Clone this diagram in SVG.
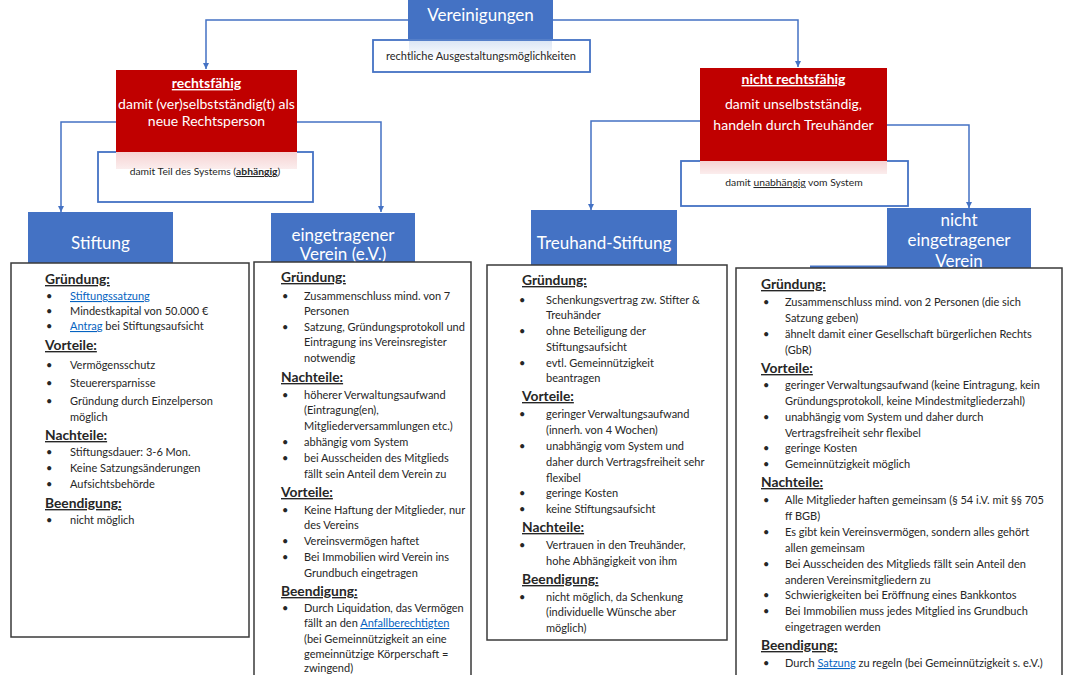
<svg xmlns="http://www.w3.org/2000/svg" width="1080" height="675" viewBox="0 0 1080 675">
<defs>
<marker id="arr" viewBox="0 0 10 10" refX="10" refY="5" markerWidth="6" markerHeight="6" markerUnits="userSpaceOnUse" orient="auto">
<path d="M0,0 L10,5 L0,10 z" fill="#4472C4"/>
</marker>
<linearGradient id="pink" x1="0" y1="0" x2="0" y2="1">
<stop offset="0" stop-color="#F6D3D3"/><stop offset="1" stop-color="#FBEDED"/>
</linearGradient>
<linearGradient id="lblue" x1="0" y1="0" x2="0" y2="1">
<stop offset="0" stop-color="#DCE6F5"/><stop offset="1" stop-color="#FFFFFF"/>
</linearGradient>
</defs>
<style>
.t{font-family:Lato,"Open Sans","Liberation Sans",sans-serif;font-size:11px;fill:#262626}
.h{font-family:Lato,"Open Sans","Liberation Sans",sans-serif;font-size:13.8px;font-weight:bold;fill:#262626;text-decoration:underline}
.lk{fill:#0563C1;text-decoration:underline}
.ti{font-family:Lato,"Open Sans","Liberation Sans",sans-serif;font-size:17px;fill:#FFFFFF;text-anchor:middle}
.rt{font-family:Lato,"Open Sans","Liberation Sans",sans-serif;font-size:14px;fill:#FFFFFF;text-anchor:middle}
.rh{font-weight:bold;text-decoration:underline}
.sm{font-family:Lato,"Open Sans","Liberation Sans",sans-serif;font-size:10.3px;fill:#262626;text-anchor:middle}
.blue{fill:#4472C4}
.red{fill:#C00000}
.tb{fill:#FFFFFF;stroke:#4472C4;stroke-width:1.8}
.pn{fill:#FFFFFF;stroke:#3A3A3A;stroke-width:1.5}
.conn{stroke:#4472C4;stroke-width:1.5;fill:none;marker-end:url(#arr)}
</style>

<g id="connectors">
<path class="conn" d="M408,20 H206 V69"/>
<path class="conn" d="M553,20 H798 V67"/>
<path class="conn" d="M116,122 H61 V212"/>
<path class="conn" d="M297,122 H381 V212"/>
<path class="conn" d="M700,121 H591 V210"/>
<path class="conn" d="M887,125 H969 V208"/>
</g>

<g id="vereinigungen">
<rect class="tb" x="373" y="40" width="217" height="32"/>
<rect x="409" y="41" width="143" height="18" fill="url(#lblue)"/>
<rect class="blue" x="408" y="0" width="145" height="39"/>
<text class="ti" x="480.5" y="21">Vereinigungen</text>
<text class="sm" x="481" y="60" style="font-size:11px">rechtliche Ausgestaltungsmöglichkeiten</text>
</g>

<g id="rechtsfaehig">
<rect class="tb" x="98" y="152" width="215" height="50"/>
<rect x="116" y="152" width="181" height="17" fill="url(#pink)"/>
<rect class="red" x="116" y="70" width="181" height="82"/>
<text class="rt" x="206.5" y="88"><tspan class="rh">rechtsfähig</tspan></text>
<text class="rt" x="206.5" y="109">damit (ver)selbstständig(t) als</text>
<text class="rt" x="206.5" y="126">neue Rechtsperson</text>
<text class="sm" x="205" y="175">damit Teil des Systems (<tspan font-weight="bold" text-decoration="underline">abhängig</tspan>)</text>
</g>

<g id="nicht-rechtsfaehig">
<rect class="tb" x="681" y="161" width="227" height="45"/>
<rect x="700" y="161" width="187" height="13" fill="url(#pink)"/>
<rect class="red" x="700" y="68" width="187" height="93"/>
<text class="rt" x="793.5" y="84"><tspan class="rh">nicht rechtsfähig</tspan></text>
<text class="rt" x="793.5" y="109">damit unselbstständig,</text>
<text class="rt" x="793.5" y="130">handeln durch Treuhänder</text>
<text class="sm" x="794" y="186">damit <tspan text-decoration="underline">unabhängig</tspan> vom System</text>
</g>

<g id="stiftung">
<rect class="blue" x="28" y="212" width="145" height="51"/>
<text class="ti" x="100.5" y="249">Stiftung</text>
<rect class="pn" x="11" y="263" width="238" height="374"/>
<text class="h" x="45" y="284">Gründung:</text>
<g class="t">
<text x="46" y="300">•</text><text x="70" y="300" class="lk">Stiftungssatzung</text>
<text x="46" y="315">•</text><text x="70" y="315">Mindestkapital von 50.000 €</text>
<text x="46" y="330">•</text><text x="70" y="330"><tspan class="lk">Antrag</tspan> bei Stiftungsaufsicht</text>
</g>
<text class="h" x="45" y="350">Vorteile:</text>
<g class="t">
<text x="46" y="369">•</text><text x="70" y="369">Vermögensschutz</text>
<text x="46" y="387">•</text><text x="70" y="387">Steuerersparnisse</text>
<text x="46" y="405">•</text><text x="70" y="405">Gründung durch Einzelperson</text>
<text x="70" y="421">möglich</text>
</g>
<text class="h" x="45" y="440">Nachteile:</text>
<g class="t">
<text x="46" y="456">•</text><text x="70" y="456">Stiftungsdauer: 3-6 Mon.</text>
<text x="46" y="472">•</text><text x="70" y="472">Keine Satzungsänderungen</text>
<text x="46" y="488">•</text><text x="70" y="488">Aufsichtsbehörde</text>
</g>
<text class="h" x="45" y="508">Beendigung:</text>
<g class="t">
<text x="46" y="524">•</text><text x="70" y="524">nicht möglich</text>
</g>
</g>

<g id="eingetragener-verein">
<rect class="blue" x="271" y="213" width="144" height="50"/>
<text class="ti" x="343" y="241">eingetragener</text>
<text class="ti" x="343" y="260">Verein (e.V.)</text>
<rect class="pn" x="254" y="262" width="217" height="430"/>
<text class="h" x="281" y="282">Gründung:</text>
<g class="t">
<text x="282" y="300">•</text><text x="304" y="300">Zusammenschluss mind. von 7</text>
<text x="304" y="315">Personen</text>
<text x="282" y="331">•</text><text x="304" y="331">Satzung, Gründungsprotokoll und</text>
<text x="304" y="346">Eintragung ins Vereinsregister</text>
<text x="304" y="362">notwendig</text>
</g>
<text class="h" x="281" y="382">Nachteile:</text>
<g class="t">
<text x="282" y="399">•</text><text x="304" y="399">höherer Verwaltungsaufwand</text>
<text x="304" y="414">(Eintragung(en),</text>
<text x="304" y="430">Mitgliederversammlungen etc.)</text>
<text x="282" y="446">•</text><text x="304" y="446">abhängig vom System</text>
<text x="282" y="462">•</text><text x="304" y="462">bei Ausscheiden des Mitglieds</text>
<text x="304" y="478">fällt sein Anteil dem Verein zu</text>
</g>
<text class="h" x="281" y="497">Vorteile:</text>
<g class="t">
<text x="282" y="514">•</text><text x="304" y="514">Keine Haftung der Mitglieder, nur</text>
<text x="304" y="529">des Vereins</text>
<text x="282" y="545">•</text><text x="304" y="545">Vereinsvermögen haftet</text>
<text x="282" y="561">•</text><text x="304" y="561">Bei Immobilien wird Verein ins</text>
<text x="304" y="577">Grundbuch eingetragen</text>
</g>
<text class="h" x="281" y="596">Beendigung:</text>
<g class="t">
<text x="282" y="612">•</text><text x="304" y="612">Durch Liquidation, das Vermögen</text>
<text x="304" y="627">fällt an den <tspan class="lk">Anfallberechtigten</tspan></text>
<text x="304" y="643">(bei Gemeinnützigkeit an eine</text>
<text x="304" y="658">gemeinnützige Körperschaft =</text>
<text x="304" y="672">zwingend)</text>
</g>
</g>

<g id="treuhand-stiftung">
<rect class="blue" x="531" y="210" width="146" height="55"/>
<text class="ti" x="604" y="249">Treuhand-Stiftung</text>
<rect class="pn" x="487" y="265" width="240" height="375"/>
<text class="h" x="522" y="285">Gründung:</text>
<g class="t">
<text x="519" y="304">•</text><text x="546" y="304">Schenkungsvertrag zw. Stifter &amp;</text>
<text x="546" y="319">Treuhänder</text>
<text x="519" y="335">•</text><text x="546" y="335">ohne Beteiligung der</text>
<text x="546" y="351">Stiftungsaufsicht</text>
<text x="519" y="367">•</text><text x="546" y="367">evtl. Gemeinnützigkeit</text>
<text x="546" y="382">beantragen</text>
</g>
<text class="h" x="522" y="401">Vorteile:</text>
<g class="t">
<text x="519" y="418">•</text><text x="546" y="418">geringer Verwaltungsaufwand</text>
<text x="546" y="434">(innerh. von 4 Wochen)</text>
<text x="519" y="450">•</text><text x="546" y="450">unabhängig vom System und</text>
<text x="546" y="466">daher durch Vertragsfreiheit sehr</text>
<text x="546" y="482">flexibel</text>
<text x="519" y="497">•</text><text x="546" y="497">geringe Kosten</text>
<text x="519" y="513">•</text><text x="546" y="513">keine Stiftungsaufsicht</text>
</g>
<text class="h" x="522" y="532">Nachteile:</text>
<g class="t">
<text x="519" y="549">•</text><text x="546" y="549">Vertrauen in den Treuhänder,</text>
<text x="546" y="565">hohe Abhängigkeit von ihm</text>
</g>
<text class="h" x="522" y="584">Beendigung:</text>
<g class="t">
<text x="519" y="601">•</text><text x="546" y="601">nicht möglich, da Schenkung</text>
<text x="546" y="616">(individuelle Wünsche aber</text>
<text x="546" y="632">möglich)</text>
</g>
</g>

<g id="nicht-eingetragener-verein">
<rect class="blue" x="887" y="208" width="144" height="60"/>
<rect class="blue" x="810" y="265.5" width="77" height="2.5"/>
<text class="ti" x="959" y="226">nicht</text>
<text class="ti" x="959" y="246">eingetragener</text>
<text class="ti" x="959" y="267">Verein</text>
<rect class="pn" x="736" y="268" width="326" height="430"/>
<text class="h" x="761" y="289">Gründung:</text>
<g class="t">
<text x="763" y="306">•</text><text x="785" y="306">Zusammenschluss mind. von 2 Personen (die sich</text>
<text x="785" y="322">Satzung geben)</text>
<text x="763" y="338">•</text><text x="785" y="338">ähnelt damit einer Gesellschaft bürgerlichen Rechts</text>
<text x="785" y="354">(GbR)</text>
</g>
<text class="h" x="761" y="373">Vorteile:</text>
<g class="t">
<text x="763" y="389">•</text><text x="785" y="389">geringer Verwaltungsaufwand (keine Eintragung, kein</text>
<text x="785" y="405">Gründungsprotokoll, keine Mindestmitgliederzahl)</text>
<text x="763" y="421">•</text><text x="785" y="421">unabhängig vom System und daher durch</text>
<text x="785" y="437">Vertragsfreiheit sehr flexibel</text>
<text x="763" y="452">•</text><text x="785" y="452">geringe Kosten</text>
<text x="763" y="468">•</text><text x="785" y="468">Gemeinnützigkeit möglich</text>
</g>
<text class="h" x="761" y="487">Nachteile:</text>
<g class="t">
<text x="763" y="504">•</text><text x="785" y="504">Alle Mitglieder haften gemeinsam (§ 54 i.V. mit §§ 705</text>
<text x="785" y="520">ff BGB)</text>
<text x="763" y="536">•</text><text x="785" y="536">Es gibt kein Vereinsvermögen, sondern alles gehört</text>
<text x="785" y="552">allen gemeinsam</text>
<text x="763" y="568">•</text><text x="785" y="568">Bei Ausscheiden des Mitglieds fällt sein Anteil den</text>
<text x="785" y="584">anderen Vereinsmitgliedern zu</text>
<text x="763" y="599">•</text><text x="785" y="599">Schwierigkeiten bei Eröffnung eines Bankkontos</text>
<text x="763" y="615">•</text><text x="785" y="615">Bei Immobilien muss jedes Mitglied ins Grundbuch</text>
<text x="785" y="631">eingetragen werden</text>
</g>
<text class="h" x="761" y="650">Beendigung:</text>
<g class="t">
<text x="763" y="667">•</text><text x="785" y="667">Durch <tspan class="lk">Satzung</tspan> zu regeln (bei Gemeinnützigkeit s. e.V.)</text>
</g>
</g>
</svg>
